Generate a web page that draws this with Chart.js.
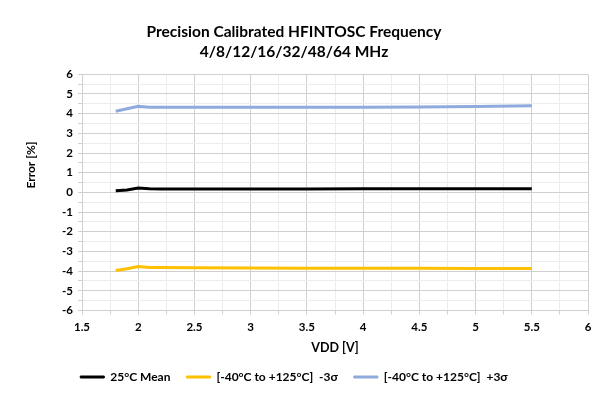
<!DOCTYPE html>
<html><head><meta charset="utf-8">
<script src="https://cdn.jsdelivr.net/npm/chart.js@4.4.0/dist/chart.umd.min.js"></script>
<style>html,body{margin:0;padding:0;background:#fff}#wrap{width:609px;height:395px}</style>
</head><body><div id="wrap"><canvas id="c" width="609" height="395"></canvas></div>
<script>
const vdd = [1.8, 1.9, 2.0, 2.1, 2.2, 2.5, 3.0, 3.5, 4.0, 4.5, 5.0, 5.5];
const mean25 = [0.08, 0.12, 0.22, 0.18, 0.17, 0.17, 0.17, 0.17, 0.18, 0.18, 0.19, 0.19];
const minus3s = [-3.97, -3.88, -3.76, -3.81, -3.82, -3.83, -3.84, -3.85, -3.85, -3.85, -3.86, -3.86];
const plus3s = [4.12, 4.25, 4.37, 4.32, 4.32, 4.32, 4.32, 4.32, 4.33, 4.34, 4.36, 4.40];
const seriesNames = ['25°C Mean', '[-40°C to +125°C]  -3σ', '[-40°C to +125°C]  +3σ'];
const titleLines = ['Precision Calibrated HFINTOSC Frequency', '4/8/12/16/32/48/64 MHz'];
const xTitle = 'VDD [V]';
const yTitle = 'Error [%]';

const FONT = 'Lato, "Open Sans", sans-serif';
const MAJOR = '#d0d0d0', MINOR = '#ececec';
const pts = arr => vdd.map((x, i) => ({x: x, y: arr[i]}));

const yTitlePlugin = {
  id: 'ytitle',
  afterDraw(chart) {
    const c = chart.ctx;
    c.save();
    c.translate(31, 165);
    c.rotate(-Math.PI / 2);
    c.font = 'bold 12px ' + FONT;
    c.fillStyle = '#000';
    c.textAlign = 'center';
    c.textBaseline = 'middle';
    c.fillText(yTitle, 0, 0);
    c.restore();
  }
};

new Chart(document.getElementById('c'), {
  type: 'line',
  data: {
    datasets: [
      {label: seriesNames[0], data: pts(mean25), borderColor: '#000000', backgroundColor: '#000000'},
      {label: seriesNames[1], data: pts(minus3s), borderColor: '#FFC000', backgroundColor: '#FFC000'},
      {label: seriesNames[2], data: pts(plus3s), borderColor: '#8FAADC', backgroundColor: '#8FAADC'}
    ]
  },
  options: {
    responsive: false,
    animation: false,
    devicePixelRatio: 1,
    elements: {point: {radius: 0}, line: {borderWidth: 3, tension: 0}},
    layout: {padding: {left: 0, right: 21, top: 0, bottom: 2}},
    plugins: {
      title: {
        display: true, text: titleLines, color: '#000',
        font: {family: FONT, size: 15.5, weight: 'bold', lineHeight: 1.3},
        padding: {top: 22, bottom: 12}
      },
      legend: {
        position: 'bottom',
        labels: {
          color: '#000', font: {family: FONT, size: 12, weight: 'bold'},
          boxWidth: 24, boxHeight: 2, padding: 16,
          generateLabels(chart) {
            const items = Chart.defaults.plugins.legend.labels.generateLabels(chart);
            items.forEach(it => { it.lineWidth = 1; });
            return items;
          }
        }
      },
      tooltip: {enabled: false}
    },
    scales: {
      x: {
        type: 'linear', min: 1.5, max: 6,
        ticks: {
          stepSize: 0.25, color: '#000', font: {family: FONT, size: 11.5, weight: 'bold'},
          padding: 6, maxRotation: 0, autoSkip: false,
          callback: v => (Math.abs(v * 2 - Math.round(v * 2)) < 1e-6) ? String(v) : ''
        },
        grid: {
          color: ctx => (ctx.tick && Math.abs(ctx.tick.value * 2 - Math.round(ctx.tick.value * 2)) < 1e-6) ? MAJOR : MINOR,
          tickColor: MAJOR, tickLength: 4
        },
        border: {color: MAJOR},
        title: {display: true, text: xTitle, color: '#000', font: {family: FONT, size: 12.5, weight: 'bold'}, padding: {top: 4, bottom: 0}},
        afterFit: s => { s.height = 44.5; }
      },
      y: {
        type: 'linear', min: -6, max: 6,
        ticks: {
          stepSize: 0.5, color: '#000', font: {family: FONT, size: 11.5, weight: 'bold'},
          padding: 5, autoSkip: false,
          callback: v => Number.isInteger(v) ? String(v) : ''
        },
        grid: {
          color: ctx => (ctx.tick && Number.isInteger(ctx.tick.value)) ? MAJOR : MINOR,
          tickColor: MAJOR, tickLength: 4
        },
        border: {color: MAJOR},
        afterFit: s => { s.width = 82; }
      }
    }
  },
  plugins: [yTitlePlugin]
});
</script>
</body></html>
